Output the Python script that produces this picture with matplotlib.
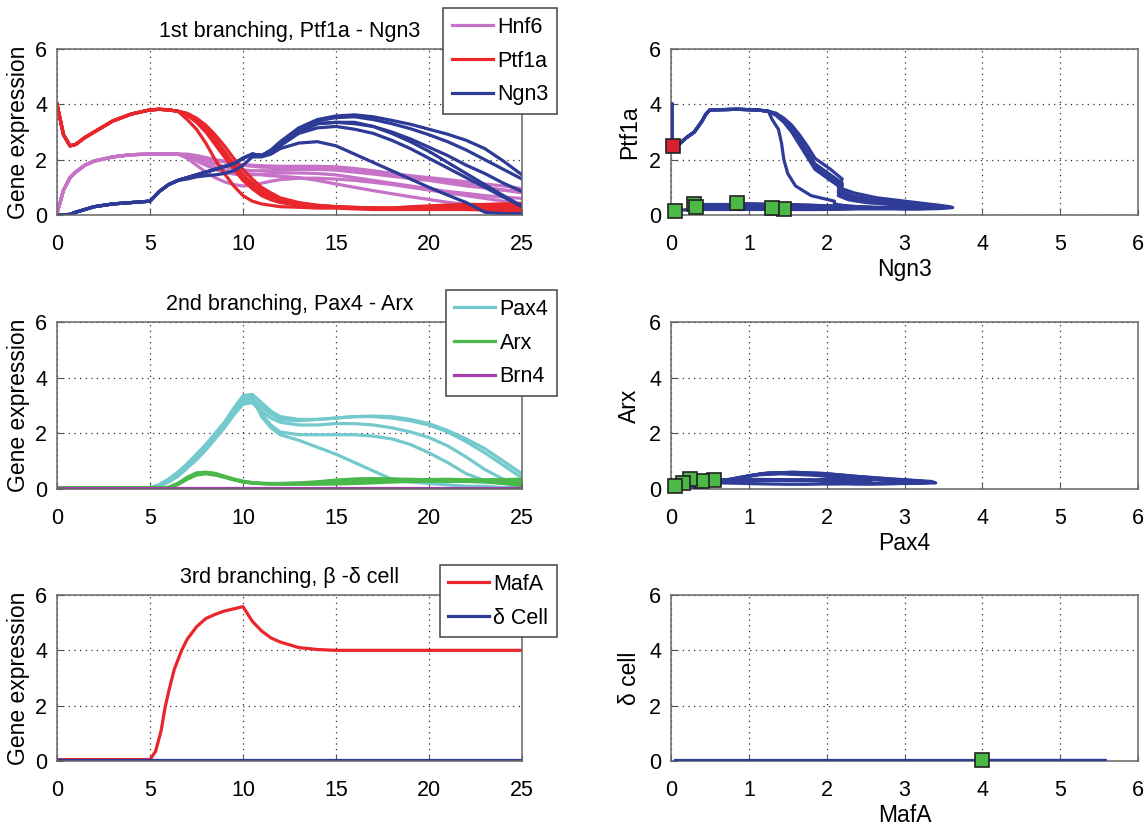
import numpy as np
import matplotlib
matplotlib.use('Agg')
import matplotlib.pyplot as plt

###############################################################################
# Data
###############################################################################
# 1st branching: shared start, then six stochastic runs
T1_EARLY = [0, 0.35, 0.7, 1, 1.5, 2, 3, 4, 5, 5.5, 6, 6.5]
T1_LATE = [7, 7.5, 8, 8.5, 9, 9.5, 10, 10.5, 11, 11.5, 12, 13, 14, 15,
           16, 17, 18, 19, 20, 21, 22, 23, 24, 25]

hnf6_early = [0.05, 0.9, 1.35, 1.55, 1.8, 1.95, 2.1, 2.18, 2.2, 2.2, 2.2, 2.2]
ptf1a_early = [4.0, 2.9, 2.5, 2.55, 2.8, 3.0, 3.4, 3.65, 3.8, 3.82, 3.8, 3.75]
ngn3_early = [0.01, 0.01, 0.02, 0.1, 0.2, 0.3, 0.4, 0.45, 0.5, 0.85, 1.1, 1.25]

hnf6_late = [
    [2.18, 2.12, 2.05, 1.98, 1.92, 1.86, 1.82, 1.8, 1.78, 1.77, 1.76, 1.76,
     1.76, 1.74, 1.68, 1.6, 1.5, 1.4, 1.3, 1.2, 1.1, 1.0, 0.9, 0.8],
    [2.15, 2.05, 1.95, 1.85, 1.75, 1.68, 1.63, 1.6, 1.6, 1.6, 1.62, 1.65,
     1.65, 1.62, 1.55, 1.48, 1.4, 1.32, 1.25, 1.15, 1.05, 0.98, 0.9, 0.85],
    [2.05, 1.8, 1.55, 1.35, 1.2, 1.1, 1.05, 1.08, 1.15, 1.22, 1.28, 1.33,
     1.33, 1.3, 1.25, 1.18, 1.1, 1.0, 0.9, 0.8, 0.7, 0.6, 0.5, 0.4],
    [2.1, 1.95, 1.8, 1.65, 1.55, 1.48, 1.45, 1.45, 1.47, 1.5, 1.52, 1.52,
     1.5, 1.45, 1.35, 1.25, 1.15, 1.05, 0.95, 0.85, 0.78, 0.7, 0.65, 0.6],
    [2.12, 2.0, 1.85, 1.72, 1.62, 1.55, 1.5, 1.48, 1.45, 1.42, 1.4, 1.35,
     1.25, 1.12, 1.0, 0.88, 0.77, 0.66, 0.56, 0.46, 0.38, 0.32, 0.28, 0.25],
    [2.2, 2.15, 2.08, 2.0, 1.95, 1.88, 1.8, 1.76, 1.73, 1.72, 1.72, 1.73,
     1.74, 1.72, 1.65, 1.58, 1.5, 1.42, 1.35, 1.28, 1.2, 1.12, 1.05, 0.95],
]
ptf1a_late = [
    [3.68, 3.5, 3.25, 2.9, 2.5, 2.05, 1.65, 1.3, 1.0, 0.8, 0.62, 0.45,
     0.35, 0.3, 0.27, 0.25, 0.23, 0.22, 0.22, 0.22, 0.22, 0.22, 0.2, 0.2],
    [3.65, 3.45, 3.15, 2.75, 2.3, 1.85, 1.45, 1.15, 0.9, 0.7, 0.55, 0.42,
     0.35, 0.3, 0.28, 0.25, 0.25, 0.25, 0.26, 0.28, 0.28, 0.28, 0.27, 0.27],
    [3.62, 3.4, 3.08, 2.65, 2.2, 1.75, 1.35, 1.05, 0.8, 0.62, 0.5, 0.38,
     0.32, 0.28, 0.25, 0.22, 0.22, 0.25, 0.28, 0.32, 0.35, 0.38, 0.4, 0.42],
    [3.6, 3.35, 3.0, 2.55, 2.1, 1.65, 1.25, 0.95, 0.7, 0.55, 0.45, 0.35,
     0.3, 0.28, 0.25, 0.25, 0.25, 0.3, 0.33, 0.36, 0.38, 0.38, 0.38, 0.38],
    [3.45, 3.1, 2.6, 2.0, 1.5, 1.05, 0.7, 0.5, 0.4, 0.35, 0.3, 0.28,
     0.25, 0.25, 0.22, 0.2, 0.2, 0.2, 0.2, 0.2, 0.2, 0.18, 0.16, 0.15],
    [3.64, 3.42, 3.12, 2.7, 2.25, 1.8, 1.4, 1.1, 0.85, 0.66, 0.52, 0.4,
     0.33, 0.29, 0.26, 0.24, 0.24, 0.26, 0.28, 0.3, 0.3, 0.3, 0.3, 0.3],
]
ngn3_late = [
    [1.35, 1.45, 1.55, 1.65, 1.75, 1.85, 2.05, 2.2, 2.15, 2.35, 2.65, 3.15,
     3.45, 3.58, 3.62, 3.55, 3.42, 3.28, 3.1, 2.92, 2.7, 2.4, 1.95, 1.45],
    [1.35, 1.45, 1.55, 1.65, 1.75, 1.85, 2.05, 2.2, 2.15, 2.33, 2.6, 3.1,
     3.4, 3.52, 3.55, 3.45, 3.3, 3.12, 2.9, 2.65, 2.35, 2.0, 1.65, 1.3],
    [1.35, 1.45, 1.55, 1.65, 1.75, 1.85, 2.05, 2.2, 2.15, 2.3, 2.55, 3.0,
     3.3, 3.35, 3.3, 3.2, 3.0, 2.75, 2.45, 2.15, 1.8, 1.5, 1.15, 0.85],
    [1.35, 1.45, 1.55, 1.65, 1.75, 1.85, 2.05, 2.2, 2.15, 2.28, 2.5, 2.95,
     3.15, 3.2, 3.1, 2.95, 2.7, 2.4, 2.05, 1.7, 1.35, 1.0, 0.65, 0.3],
    [1.3, 1.38, 1.42, 1.45, 1.5, 1.6, 1.8, 2.1, 2.1, 2.2, 2.4, 2.6,
     2.65, 2.5, 2.2, 1.9, 1.6, 1.3, 1.0, 0.72, 0.45, 0.1, 0.05, 0.05],
    [1.35, 1.45, 1.55, 1.65, 1.75, 1.85, 2.05, 2.2, 2.15, 2.3, 2.55, 3.0,
     3.3, 3.35, 3.35, 3.2, 2.95, 2.65, 2.3, 1.9, 1.5, 1.1, 0.7, 0.32],
]
START_IDX = 2  # Ptf1a dip, marked red in the phase plot

# 2nd branching
T2 = [0, 5, 5.5, 6, 6.5, 7, 7.5, 8, 8.5, 9, 9.5, 10, 10.5, 11, 11.5, 12,
      13, 14, 15, 16, 17, 18, 19, 20, 21, 22, 23, 24, 25]
pax4 = [
    [0.05, 0.05, 0.15, 0.35, 0.6, 0.9, 1.25, 1.6, 2.0, 2.4, 2.9, 3.35, 3.4,
     3.1, 2.8, 2.6, 2.5, 2.5, 2.55, 2.6, 2.62, 2.6, 2.5, 2.35, 2.1, 1.8,
     1.45, 1.0, 0.55],
    [0.05, 0.05, 0.12, 0.3, 0.55, 0.85, 1.15, 1.5, 1.9, 2.3, 2.75, 3.2, 3.25,
     2.95, 2.7, 2.5, 2.45, 2.5, 2.55, 2.6, 2.6, 2.55, 2.45, 2.3, 2.05, 1.7,
     1.3, 0.85, 0.4],
    [0.05, 0.05, 0.1, 0.25, 0.45, 0.75, 1.05, 1.4, 1.8, 2.2, 2.65, 3.05, 3.1,
     2.8, 2.55, 2.4, 2.3, 2.3, 2.35, 2.35, 2.3, 2.2, 2.05, 1.85, 1.55, 1.15,
     0.7, 0.35, 0.25],
    [0.05, 0.05, 0.12, 0.3, 0.5, 0.8, 1.1, 1.45, 1.85, 2.25, 2.7, 3.1, 3.15,
     2.7, 2.3, 2.05, 1.95, 1.95, 1.95, 1.95, 1.9, 1.8, 1.6, 1.3, 0.95, 0.55,
     0.3, 0.2, 0.15],
    [0.05, 0.05, 0.15, 0.35, 0.6, 0.9, 1.2, 1.55, 1.95, 2.35, 2.8, 3.25, 3.3,
     2.6, 2.2, 1.95, 1.75, 1.5, 1.25, 0.95, 0.65, 0.35, 0.25, 0.2, 0.15,
     0.1, 0.1, 0.05, 0.05],
]
arx = [
    [0.03, 0.03, 0.03, 0.06, 0.2, 0.42, 0.58, 0.6, 0.55, 0.45, 0.35, 0.27,
     0.22, 0.2, 0.2, 0.2, 0.22, 0.26, 0.32, 0.36, 0.37, 0.35, 0.32, 0.3,
     0.3, 0.31, 0.32, 0.32, 0.33],
    [0.03, 0.03, 0.03, 0.05, 0.18, 0.38, 0.55, 0.58, 0.53, 0.44, 0.34, 0.26,
     0.22, 0.2, 0.19, 0.19, 0.2, 0.24, 0.3, 0.34, 0.36, 0.35, 0.32, 0.3,
     0.29, 0.3, 0.31, 0.32, 0.3],
    [0.03, 0.03, 0.03, 0.05, 0.16, 0.35, 0.5, 0.55, 0.5, 0.42, 0.33, 0.25,
     0.21, 0.19, 0.18, 0.18, 0.19, 0.22, 0.27, 0.32, 0.35, 0.36, 0.35, 0.33,
     0.32, 0.32, 0.33, 0.34, 0.35],
    [0.03, 0.03, 0.03, 0.05, 0.17, 0.37, 0.52, 0.56, 0.52, 0.43, 0.34, 0.26,
     0.22, 0.2, 0.19, 0.19, 0.2, 0.22, 0.25, 0.28, 0.3, 0.32, 0.33, 0.34,
     0.35, 0.33, 0.3, 0.26, 0.22],
    [0.03, 0.03, 0.03, 0.06, 0.2, 0.4, 0.56, 0.6, 0.56, 0.46, 0.36, 0.28,
     0.23, 0.2, 0.19, 0.18, 0.17, 0.17, 0.18, 0.2, 0.22, 0.25, 0.27, 0.28,
     0.28, 0.27, 0.25, 0.2, 0.12],
]
BRN4_T = [0, 5, 10, 15, 20, 25]
brn4 = [0.05, 0.05, 0.05, 0.05, 0.05, 0.05]

# 3rd branching
T3 = [0, 5, 5.3, 5.6, 5.8, 6, 6.3, 6.7, 7, 7.5, 8, 8.5, 9, 9.5, 10, 10.5,
      11, 11.5, 12, 13, 14, 15, 20, 25]
mafa = [0.05, 0.05, 0.35, 1.1, 1.9, 2.5, 3.3, 4.0, 4.4, 4.85, 5.15, 5.3,
        5.42, 5.5, 5.58, 5.05, 4.7, 4.45, 4.3, 4.1, 4.03, 4.0, 4.0, 4.0]
delta = [0.05, 0.05, 0.05, 0.05, 0.05, 0.05, 0.05, 0.05, 0.05, 0.05, 0.05,
         0.05, 0.05, 0.05, 0.05, 0.05, 0.05, 0.05, 0.05, 0.05, 0.05, 0.05,
         0.05, 0.05]

###############################################################################
# Style
###############################################################################
plt.rcParams['font.family'] = ['Liberation Sans', 'DejaVu Sans']
plt.rcParams['font.size'] = 15

C_HNF6, C_PTF1A, C_NGN3 = '#c672c6', '#e8262b', '#2d3a96'
C_PAX4, C_ARX, C_BRN4 = '#74c9cc', '#4ab84a', '#a33fa8'
C_PHASE, C_END, C_START = '#2f3c98', '#4cb848', '#d8202e'
LW = 2.3

W, H = 1146, 830
fig = plt.figure(figsize=(W / 100, H / 100), dpi=100)


def rect(x0, x1, top, bot):
    return [x0 / W, 1 - bot / H, (x1 - x0) / W, (bot - top) / H]


def style(ax, xmax, xstep):
    ax.set_xlim(0, xmax)
    ax.set_ylim(0, 6)
    ax.set_xticks(np.arange(0, xmax + 0.1, xstep))
    ax.set_yticks([0, 2, 4, 6])
    ax.grid(True, ls=(0, (1, 3.5)), color='#303030', lw=0.9)
    ax.tick_params(direction='in', length=4, color='#555555', labelsize=15.5)
    ax.tick_params(axis='x', pad=14)
    ax.tick_params(axis='y', pad=7)
    for s in ax.spines.values():
        s.set_color('#666666')
        s.set_linewidth(1.1)


def legend(handles, labels, top):
    lg = fig.legend(handles, labels, loc='upper right',
                    bbox_to_anchor=(557 / W, 1 - top / H), fontsize=15.5,
                    handlelength=1.9, handletextpad=0.2, labelspacing=0.6,
                    borderpad=0.4, borderaxespad=0, fancybox=False,
                    framealpha=1)
    lg.get_frame().set_edgecolor('#444444')
    lg.get_frame().set_linewidth(1.1)


rows = [(49, 215), (322, 489), (595, 761)]
left = [fig.add_axes(rect(57, 522, t, b)) for (t, b) in rows]
right = [fig.add_axes(rect(671, 1138, t, b)) for (t, b) in rows]

###############################################################################
# 1st branching
###############################################################################
ax = left[0]
t1 = T1_EARLY + T1_LATE
for k in range(len(hnf6_late)):
    h1, = ax.plot(t1, hnf6_early + hnf6_late[k], color=C_HNF6, lw=LW)
for k in range(len(ptf1a_late)):
    h2, = ax.plot(t1, ptf1a_early + ptf1a_late[k], color=C_PTF1A, lw=LW)
for k in range(len(ngn3_late)):
    h3, = ax.plot(t1, ngn3_early + ngn3_late[k], color=C_NGN3, lw=LW)
style(ax, 25, 5)
ax.set_title('1st branching, Ptf1a - Ngn3', fontsize=15.5, pad=9)
ax.set_ylabel('Gene expression', fontsize=16.5, labelpad=4)
legend([h1, h2, h3], ['Hnf6', 'Ptf1a', 'Ngn3'], 8)

ax = right[0]
for k in range(len(ngn3_late)):
    ax.plot(ngn3_early + ngn3_late[k], ptf1a_early + ptf1a_late[k],
            color=C_PHASE, lw=LW, zorder=3)
ax.plot(ngn3_early[START_IDX], ptf1a_early[START_IDX], 's', ms=10,
        mfc=C_START, mec='#222222', mew=1.2, zorder=4, clip_on=False)
ax.plot([n[-1] for n in ngn3_late], [p[-1] for p in ptf1a_late], 's',
        ms=10, mfc=C_END, mec='#222222', mew=1.2, ls='none', zorder=4,
        clip_on=False)
style(ax, 6, 1)
ax.set_xlabel('Ngn3', fontsize=16.5, labelpad=2)
ax.set_ylabel('Ptf1a', fontsize=16.5, labelpad=6)

###############################################################################
# 2nd branching
###############################################################################
ax = left[1]
for k in range(len(pax4)):
    h1, = ax.plot(T2, pax4[k], color=C_PAX4, lw=LW)
for k in range(len(arx)):
    h2, = ax.plot(T2, arx[k], color=C_ARX, lw=LW)
h3, = ax.plot(BRN4_T, brn4, color=C_BRN4, lw=LW)
style(ax, 25, 5)
ax.set_title('2nd branching, Pax4 - Arx', fontsize=15.5, pad=9)
ax.set_ylabel('Gene expression', fontsize=16.5, labelpad=4)
legend([h1, h2, h3], ['Pax4', 'Arx', 'Brn4'], 290)

ax = right[1]
for k in range(len(pax4)):
    ax.plot(pax4[k], arx[k], color=C_PHASE, lw=LW, zorder=3)
ax.plot([p[-1] for p in pax4], [a[-1] for a in arx], 's', ms=10,
        mfc=C_END, mec='#222222', mew=1.2, ls='none', zorder=4,
        clip_on=False)
style(ax, 6, 1)
ax.set_xlabel('Pax4', fontsize=16.5, labelpad=2)
ax.set_ylabel('Arx', fontsize=16.5, labelpad=6)

###############################################################################
# 3rd branching
###############################################################################
ax = left[2]
h1, = ax.plot(T3, mafa, color=C_PTF1A, lw=LW)
h2, = ax.plot(T3, delta, color=C_NGN3, lw=LW)
style(ax, 25, 5)
ax.set_title('3rd branching, \u03b2 -\u03b4 cell', fontsize=15.5, pad=9)
ax.set_ylabel('Gene expression', fontsize=16.5, labelpad=4)
legend([h1, h2], ['MafA', '\u03b4 Cell'], 565)

ax = right[2]
ax.plot(mafa, delta, color=C_PHASE, lw=LW, zorder=3)
ax.plot(mafa[-1], delta[-1], 's', ms=10, mfc=C_END, mec='#222222',
        mew=1.2, zorder=4, clip_on=False)
style(ax, 6, 1)
ax.set_xlabel('MafA', fontsize=16.5, labelpad=2)
ax.set_ylabel('\u03b4 cell', fontsize=16.5, labelpad=6)

fig.savefig('out.png', dpi=100)
